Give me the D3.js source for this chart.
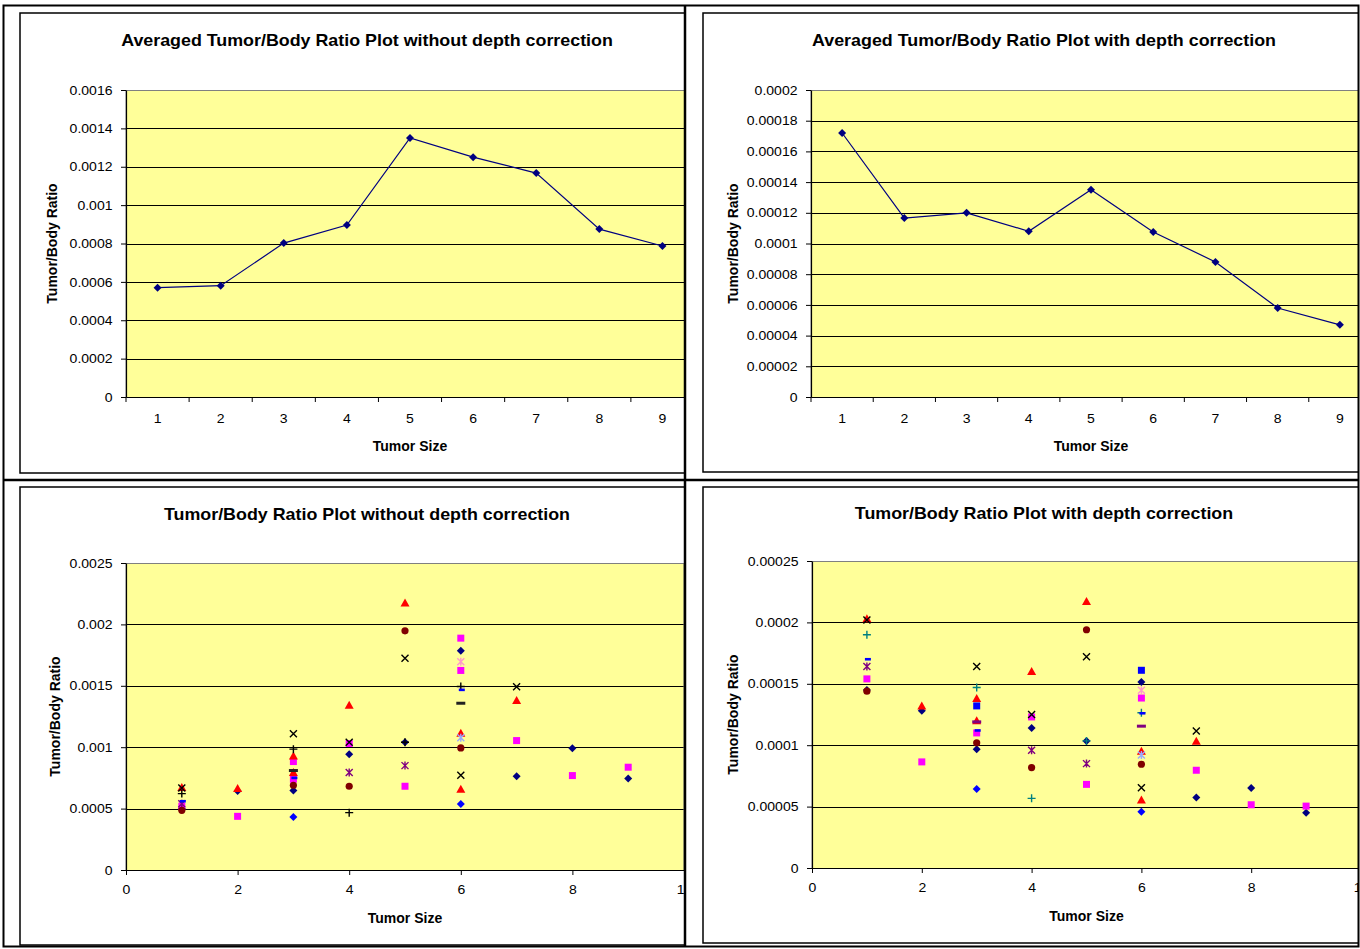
<!DOCTYPE html>
<html>
<head>
<meta charset="utf-8">
<script src="https://cdnjs.cloudflare.com/ajax/libs/d3/7.8.5/d3.min.js"></script>
<style>
body { margin: 0; background: #fff; }
svg text { font-family: Arial, "Liberation Sans", sans-serif; fill: #000; }
</style>
</head>
<body>
<svg id="page" width="1360" height="949"></svg>
<script>
// ---- data ----
var sizes = [1, 2, 3, 4, 5, 6, 7, 8, 9];
var avgNoDepth = [0.00057, 0.00058, 0.000802, 0.000896, 0.00135, 0.00125, 0.001167, 0.000875, 0.000787];
var avgDepth = [0.000172, 0.0001166, 0.00012, 0.000108, 0.000135, 0.0001075, 0.000088, 0.000058, 0.000047];

var avgNoDepthTicks = [0, 0.0002, 0.0004, 0.0006, 0.0008, 0.001, 0.0012, 0.0014, 0.0016];
var avgDepthTicks = [0, 0.00002, 0.00004, 0.00006, 0.00008, 0.0001, 0.00012, 0.00014, 0.00016, 0.00018, 0.0002];
var scatterXTicks = [0, 2, 4, 6, 8, 10];
var noDepthTicks = [0, 0.0005, 0.001, 0.0015, 0.002, 0.0025];
var depthTicks = [0, 0.00005, 0.0001, 0.00015, 0.0002, 0.00025];

// scatter without depth correction, one array per marker series
var ndNavyDiamond = [[1, 0.0005], [2, 0.000644], [3, 0.000647], [4, 0.000943], [5, 0.00104], [6, 0.001785], [7, 0.000763], [8, 0.000992], [9, 0.000745]];
var ndSquare = [[1, 0.00052], [2, 0.000437], [3, 0.000883], [3, 0.000739], [4, 0.00103], [5, 0.000682], [6, 0.001888], [6, 0.001625], [7, 0.001054], [8, 0.000769], [9, 0.000837]];
var ndTriangle = [[1, 0.000671], [2, 0.000663], [3, 0.000929], [3, 0.000793], [4, 0.001342], [5, 0.002174], [6, 0.001114], [6, 0.000657], [7, 0.00138]];
var ndCross = [[1, 0.000668], [3, 0.00111], [4, 0.00104], [5, 0.001725], [6, 0.000772], [7, 0.001492]];
var ndStar = [[1, 0.00054], [4, 0.000793], [5, 0.00085]];
var ndCircle = [[1, 0.000486], [3, 0.00069], [4, 0.000682], [5, 0.001948], [6, 0.000994]];
var ndPlus = [[1, 0.000622], [3, 0.000984], [4, 0.000467], [5, 0.00104], [6, 0.001494]];
var ndDash = [[1, 0.00056], [3, 0.00075], [6, 0.001467]];
var ndLongDash = [[3, 0.00081], [6, 0.001358]];
var ndPinkStar = [[6, 0.001695]];
var ndLightCross = [[6, 0.001076]];
var ndBlueDiamond = [[3, 0.000432], [6, 0.000538]];

// scatter with depth correction
var wdNavyDiamond = [[1, 0.000145], [2, 0.000128], [3, 0.0000967], [4, 0.000114], [5, 0.0001035], [6, 0.0001515], [7, 0.0000575], [8, 0.0000651], [9, 0.000045]];
var wdSquare = [[1, 0.000154], [2, 0.0000864], [3, 0.00011], [4, 0.000123], [5, 0.0000681], [6, 0.0001384], [7, 0.0000796], [8, 0.0000515], [9, 0.0000504]];
var wdTriangle = [[1, 0.000203], [2, 0.000132], [3, 0.000138], [3, 0.00012], [4, 0.00016], [5, 0.000217], [6, 0.0000951], [6, 0.0000553], [7, 0.0001033]];
var wdCross = [[1, 0.000202], [3, 0.000164], [4, 0.000125], [5, 0.000172], [6, 0.0000654], [7, 0.0001115]];
var wdStar = [[1, 0.000164], [4, 0.0000959], [5, 0.000085]];
var wdCircle = [[1, 0.000144], [3, 0.000102], [4, 0.0000818], [5, 0.000194], [6, 0.0000845]];
var wdPlus = [[1, 0.00019], [3, 0.000147], [4, 0.0000567], [5, 0.0001035], [6, 0.0001264]];
var wdDash = [[1, 0.00017], [3, 0.000112], [6, 0.000126]];
var wdLongDash = [[3, 0.000119], [6, 0.0001155]];
var wdPinkStar = [[6, 0.0001447]];
var wdLightCross = [[6, 0.0000921]];
var wdBlueDiamond = [[3, 0.0000643], [6, 0.0000458]];
var wdBlueSquare = [[3, 0.000132], [6, 0.000161]];

// ---- styles ----
var markerPaths = {
    diamond: 'M0,-4L4,0L0,4L-4,0Z',
    square: 'M-3.5,-3.5H3.5V3.5H-3.5Z',
    triangle: 'M0,-4.5L4.5,3.5H-4.5Z',
    circle: 'M0,-3.6A3.6,3.6 0 1,1 0,3.6A3.6,3.6 0 1,1 0,-3.6Z',
    dash: 'M-2,-1.3H4V1.3H-2Z',
    longdash: 'M-4.5,-1.5H4.5V1.5H-4.5Z',
    cross: 'M-3.5,-3.5L3.5,3.5M3.5,-3.5L-3.5,3.5',
    plus: 'M-4,0H4M0,-4V4',
    star: 'M-3.5,-3.5L3.5,3.5M3.5,-3.5L-3.5,3.5M0,-4V4'
};
var strokeShapes = ['cross', 'plus', 'star'];

var noDepthSeries = [
    { data: ndNavyDiamond, shape: 'diamond', color: '#000080' },
    { data: ndSquare, shape: 'square', color: '#ff00ff' },
    { data: ndTriangle, shape: 'triangle', color: '#ff0000' },
    { data: ndCross, shape: 'cross', color: '#000000' },
    { data: ndStar, shape: 'star', color: '#800080' },
    { data: ndCircle, shape: 'circle', color: '#800000' },
    { data: ndPlus, shape: 'plus', color: '#000000' },
    { data: ndDash, shape: 'dash', color: '#0000ff' },
    { data: ndLongDash, shape: 'longdash', color: '#222222' },
    { data: ndPinkStar, shape: 'star', color: '#ff99cc' },
    { data: ndLightCross, shape: 'star', color: '#99aaff' },
    { data: ndBlueDiamond, shape: 'diamond', color: '#0000ff' }
];
var depthSeries = [
    { data: wdNavyDiamond, shape: 'diamond', color: '#000080' },
    { data: wdSquare, shape: 'square', color: '#ff00ff' },
    { data: wdTriangle, shape: 'triangle', color: '#ff0000' },
    { data: wdCross, shape: 'cross', color: '#000000' },
    { data: wdStar, shape: 'star', color: '#800080' },
    { data: wdCircle, shape: 'circle', color: '#800000' },
    { data: wdPlus, shape: 'plus', color: '#008080' },
    { data: wdDash, shape: 'dash', color: '#0000ff' },
    { data: wdLongDash, shape: 'longdash', color: '#800080' },
    { data: wdPinkStar, shape: 'star', color: '#ff99cc' },
    { data: wdLightCross, shape: 'star', color: '#99aaff' },
    { data: wdBlueDiamond, shape: 'diamond', color: '#0000ff' },
    { data: wdBlueSquare, shape: 'square', color: '#0000ff' }
];

var fmt = function(d) { return d === 0 ? '0' : String(+d.toPrecision(6)); };

var svg = d3.select('#page');
var defs = svg.append('defs');
defs.append('clipPath').attr('id', 'clipLeft').append('rect')
    .attr('x', 4).attr('y', 6).attr('width', 680).attr('height', 941);
defs.append('clipPath').attr('id', 'clipRight').append('rect')
    .attr('x', 686).attr('y', 6).attr('width', 673).attr('height', 941);

// chart box, plot area and titles
function chartBase(c) {
    var g = svg.append('g').attr('clip-path', 'url(#' + c.clip + ')');

    g.append('rect')
        .attr('x', c.box[0]).attr('y', c.box[1])
        .attr('width', c.box[2]).attr('height', c.box[3])
        .attr('fill', '#fff').attr('stroke', '#000').attr('stroke-width', 1.5);

    g.append('rect')
        .attr('class', 'plotbg')
        .attr('x', c.plot[0]).attr('y', c.plot[1])
        .attr('width', c.plot[2]).attr('height', c.plot[3])
        .attr('fill', '#ffff99');

    // excel text comes out a little wide, so stretch it a bit
    g.append('text')
        .attr('transform', 'translate(' + (c.box[0] + c.box[2] / 2) + ',' + c.titleY + ') scale(1.05,1)')
        .attr('text-anchor', 'middle')
        .style('font-size', '17px').style('font-weight', 'bold')
        .text(c.title);

    g.append('text')
        .attr('transform', 'translate(' + c.yTitleX + ',' + (c.plot[1] + c.plot[3] / 2) + ') rotate(-90)')
        .attr('text-anchor', 'middle')
        .style('font-size', '14px').style('font-weight', 'bold')
        .text('Tumor/Body Ratio');

    g.append('text')
        .attr('x', c.plot[0] + c.plot[2] / 2).attr('y', c.xTitleY)
        .attr('text-anchor', 'middle')
        .style('font-size', '14px').style('font-weight', 'bold')
        .text('Tumor Size');

    return g;
}

function gridAndYAxis(g, c, y, ticks) {
    g.selectAll('.grid')
        .data(ticks.slice(1, ticks.length - 1))
        .enter()
        .append('line')
            .attr('x1', c.plot[0]).attr('x2', c.plot[0] + c.plot[2])
            .attr('y1', function(d) { return Math.round(y(d)) + 0.5; })
            .attr('y2', function(d) { return Math.round(y(d)) + 0.5; })
            .attr('stroke', '#000').attr('stroke-width', 1);

    // plot area border (grey)
    g.append('rect')
        .attr('x', c.plot[0]).attr('y', c.plot[1] + 0.5)
        .attr('width', c.plot[2]).attr('height', c.plot[3])
        .attr('fill', 'none').attr('stroke', '#808080').attr('stroke-width', 1);

    var ya = g.append('g')
        .attr('transform', 'translate(' + c.plot[0] + ',0)')
        .call(d3.axisLeft(y).tickValues(ticks).tickFormat(fmt).tickSize(5).tickSizeOuter(0).tickPadding(7.5));
    styleAxis(ya);
}

function styleAxis(a) {
    a.select('.domain').attr('stroke', '#000').attr('stroke-width', 1.2);
    a.selectAll('.tick line').attr('stroke', '#000');
    a.selectAll('.tick text')
        .style('font-size', '13px')
        .style('font-family', 'Arial, "Liberation Sans", sans-serif')
        .attr('fill', '#000')
        .attr('transform', 'scale(1.08,1)');
}

function drawAverage(c, values, ticks) {
    var g = chartBase(c);
    var x = d3.scaleBand().domain(sizes).range([c.plot[0], c.plot[0] + c.plot[2]]);
    var y = d3.scaleLinear().domain([0, ticks[ticks.length - 1]]).range([c.plot[1] + c.plot[3], c.plot[1]]);

    gridAndYAxis(g, c, y, ticks);

    var xa = g.append('g')
        .attr('transform', 'translate(0,' + (c.plot[1] + c.plot[3]) + ')')
        .call(d3.axisBottom(x).tickSize(0).tickPadding(17));
    styleAxis(xa);

    // category tick marks sit between the categories
    g.selectAll('.btick')
        .data(d3.range(sizes.length + 1))
        .enter()
        .append('line')
            .attr('x1', function(i) { return c.plot[0] + i * x.bandwidth(); })
            .attr('x2', function(i) { return c.plot[0] + i * x.bandwidth(); })
            .attr('y1', c.plot[1] + c.plot[3])
            .attr('y2', c.plot[1] + c.plot[3] + 5)
            .attr('stroke', '#000');

    var pts = sizes.map(function(s, i) { return { size: s, value: values[i] }; });

    var line = d3.line()
        .x(function(d) { return x(d.size) + x.bandwidth() / 2; })
        .y(function(d) { return y(d.value); });

    g.append('path')
        .datum(pts)
        .attr('d', line)
        .attr('fill', 'none')
        .attr('stroke', '#000080')
        .attr('stroke-width', 1.2);

    g.selectAll('.pt')
        .data(pts)
        .enter()
        .append('path')
            .attr('d', markerPaths.diamond)
            .attr('fill', '#000080')
            .attr('transform', function(d) {
                return 'translate(' + (x(d.size) + x.bandwidth() / 2) + ',' + y(d.value) + ')';
            });
}

function drawScatter(c, series, ticks) {
    var g = chartBase(c);
    var x = d3.scaleLinear().domain([0, 10]).range([c.plot[0], c.plot[0] + c.plot[2]]);
    var y = d3.scaleLinear().domain([0, ticks[ticks.length - 1]]).range([c.plot[1] + c.plot[3], c.plot[1]]);

    gridAndYAxis(g, c, y, ticks);

    var xa = g.append('g')
        .attr('transform', 'translate(0,' + (c.plot[1] + c.plot[3]) + ')')
        .call(d3.axisBottom(x).tickValues(scatterXTicks).tickFormat(fmt).tickSize(5).tickSizeOuter(0).tickPadding(10));
    styleAxis(xa);

    series.forEach(function(s) {
        var stroked = strokeShapes.indexOf(s.shape) >= 0;
        g.selectAll(null)
            .data(s.data)
            .enter()
            .append('path')
                .attr('d', markerPaths[s.shape])
                .attr('fill', stroked ? 'none' : s.color)
                .attr('stroke', stroked ? s.color : 'none')
                .attr('stroke-width', stroked ? 1.4 : 0)
                .attr('transform', function(d) {
                    return 'translate(' + x(d[0]) + ',' + y(d[1]) + ')';
                });
    });
}

drawAverage({
    clip: 'clipLeft', box: [20, 13, 694, 460], plot: [126, 90, 568, 307],
    title: 'Averaged Tumor/Body Ratio Plot without depth correction',
    titleY: 46, yTitleX: 57, xTitleY: 451
}, avgNoDepth, avgNoDepthTicks);

drawAverage({
    clip: 'clipRight', box: [703, 13, 682, 459], plot: [811, 90, 560, 307],
    title: 'Averaged Tumor/Body Ratio Plot with depth correction',
    titleY: 46, yTitleX: 738, xTitleY: 451
}, avgDepth, avgDepthTicks);

drawScatter({
    clip: 'clipLeft', box: [20, 487, 694, 458], plot: [126, 563, 558, 307],
    title: 'Tumor/Body Ratio Plot without depth correction',
    titleY: 520, yTitleX: 60, xTitleY: 923
}, noDepthSeries, noDepthTicks);

drawScatter({
    clip: 'clipRight', box: [703, 487, 682, 456], plot: [812, 561, 549, 307],
    title: 'Tumor/Body Ratio Plot with depth correction',
    titleY: 519, yTitleX: 738, xTitleY: 921
}, depthSeries, depthTicks);

// page frame / cell lines
svg.append('rect')
    .attr('x', 3.5).attr('y', 5.5).attr('width', 1355).attr('height', 941)
    .attr('fill', 'none').attr('stroke', '#000').attr('stroke-width', 2);
svg.append('line')
    .attr('x1', 685).attr('x2', 685).attr('y1', 5).attr('y2', 947)
    .attr('stroke', '#000').attr('stroke-width', 2.5);
svg.append('line')
    .attr('x1', 3).attr('x2', 1359).attr('y1', 480).attr('y2', 480)
    .attr('stroke', '#000').attr('stroke-width', 2.5);
</script>
</body>
</html>
